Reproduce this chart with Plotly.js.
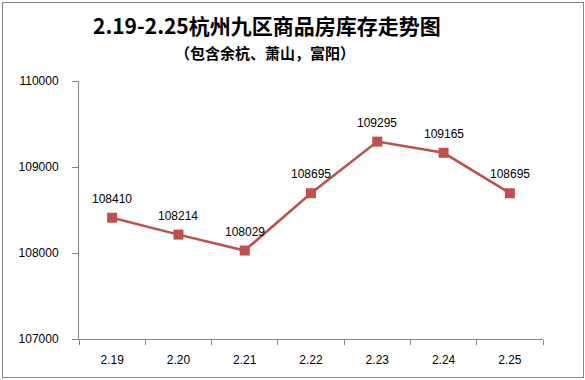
<!DOCTYPE html>
<html><head><meta charset="utf-8">
<script src="https://cdn.plot.ly/plotly-3.0.1.min.js"></script>
<style>html,body{margin:0;padding:0;background:#fff}#c{width:585px;height:380px;position:relative}
#b{position:absolute;left:2px;top:2px;width:580px;height:374px;border:1px solid #868686;pointer-events:none}</style>
</head><body><div id="c"></div><div id="b"></div>
<script>
const categories = ["2.19","2.20","2.21","2.22","2.23","2.24","2.25"];
const inventory = [108410,108214,108029,108695,109295,109165,108695];
const yTicks = [107000,108000,109000,110000];
const titleText = "2.19-2.25杭州九区商品房库存走势图";
const subtitleText = "（包含余杭、萧山，富阳）";

const font = "Liberation Sans, Arial, sans-serif";
const trace = {
  x: categories, y: inventory, type: "scatter", mode: "lines+markers",
  line: {color: "#C0504D", width: 2.5},
  marker: {symbol: "square", size: 10, color: "#C0504D"},
  cliponaxis: false, hoverinfo: "none"
};
const labels = categories.map((c, i) => ({
  x: i, y: inventory[i], xref: "x", yref: "y", text: String(inventory[i]),
  showarrow: false, yshift: 19, font: {family: font, size: 12, color: "#000"}
}));
const titles = [
  {text: "<b>" + titleText + "</b>", xref: "paper", yref: "paper", x: 0.405, y: (339-25)/258,
   xanchor: "center", yanchor: "middle", showarrow: false,
   font: {family: "Noto Sans CJK SC, sans-serif", size: 21, color: "#000"}},
  {text: "<b>" + subtitleText + "</b>", xref: "paper", yref: "paper", x: 0.40, y: (339-52)/258,
   xanchor: "center", yanchor: "middle", showarrow: false,
   font: {family: "Noto Sans CJK SC, sans-serif", size: 15, color: "#000"}}
];
const layout = {
  width: 585, height: 380,
  margin: {l: 79, r: 42, t: 81, b: 41},
  paper_bgcolor: "rgba(0,0,0,0)", plot_bgcolor: "#fff",
  showlegend: false,
  font: {family: font, size: 12, color: "#000"},
  annotations: labels.concat(titles),
  xaxis: {type: "category", range: [-0.5, 6.5], showgrid: false, showline: true,
    linecolor: "#868686", linewidth: 1, ticks: "outside", tickson: "boundaries",
    ticklen: 5, tickcolor: "#868686", zeroline: false, fixedrange: true,
    ticklabelstandoff: 10},
  yaxis: {range: [107000, 110000], tickvals: yTicks, ticktext: yTicks.map(String),
    showgrid: false, showline: true, linecolor: "#868686", linewidth: 1,
    ticks: "outside", ticklen: 6, tickcolor: "#868686", zeroline: false,
    ticklabelstandoff: 11, fixedrange: true}
};
Plotly.newPlot("c", [trace], layout, {staticPlot: true});
</script></body></html>
